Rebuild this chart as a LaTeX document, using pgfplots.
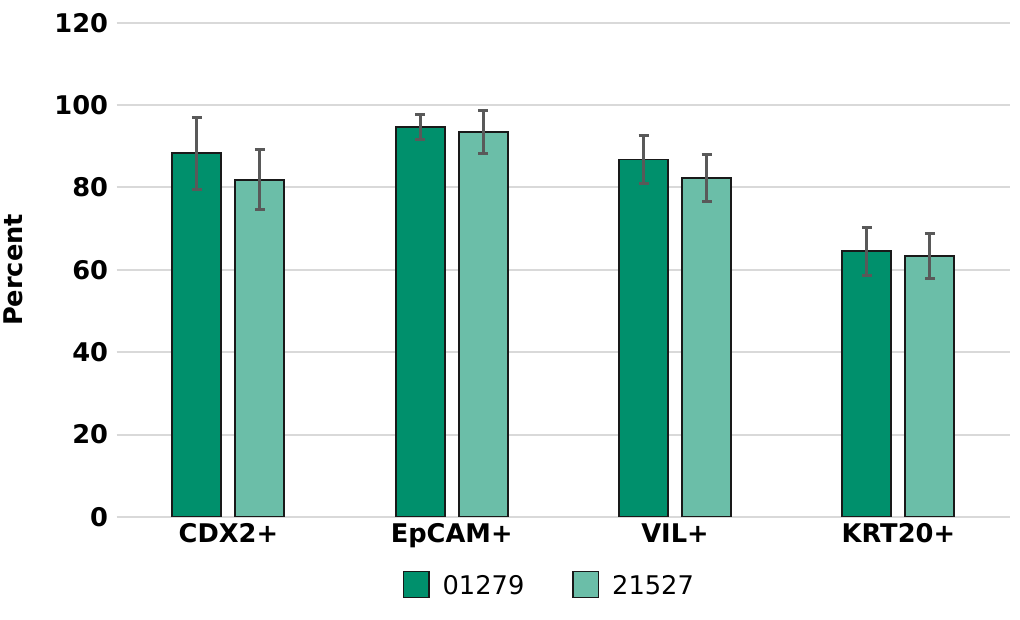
\documentclass[border=0pt]{standalone}
\usepackage{fontspec}
\setmainfont{DejaVu Sans}
\usepackage{pgfplots}
\pgfplotsset{compat=1.18}
\definecolor{cdark}{RGB}{0,144,108}
\definecolor{clight}{RGB}{107,190,168}
\definecolor{cgrid}{RGB}{217,217,217}
\definecolor{cerr}{RGB}{89,89,89}
\definecolor{cedge}{RGB}{25,25,25}
\begin{document}
\fontsize{25.7bp}{31bp}\selectfont
\begin{tikzpicture}
\path[use as bounding box] (0,0) rectangle (1020bp,620bp);
\begin{axis}[
  at={(116.7bp,103bp)}, anchor=south west,
  scale only axis, width=893.3bp, height=494.3bp,
  xmin=-0.5, xmax=3.5, ymin=0, ymax=120,
  ytick={0,20,...,120},
  xtick={0,1,2,3}, xticklabels={CDX2+,EpCAM+,VIL+,KRT20+},
  axis line style={draw=none},
  major tick length=0pt,
  ymajorgrids, grid style={cgrid, line width=2bp},
  /pgf/number format/assume math mode=true,
  yticklabel style={anchor=east, inner sep=0pt, xshift=-8.4bp, font=\bfseries},
  xticklabel style={anchor=north, inner sep=0pt, yshift=-6.3bp, font=\bfseries},
  ylabel={Percent},
  ylabel style={at={(axis description cs:-0.1049,0.5)}, anchor=south, rotate=0, inner sep=0pt, font=\bfseries},
  ybar=14bp, bar width=49bp,
  legend columns=2,
  legend style={at={(axis description cs:0.3203,-0.137)}, anchor=west, draw=none, fill=none,
    inner sep=0pt, outer sep=0pt, nodes={inner sep=0pt, outer sep=0pt},
    /tikz/every odd column/.append style={column sep=12.7bp},
    /tikz/every even column/.append style={column sep=48bp}},
  legend image code/.code={\draw[#1, line width=1.5bp, draw=cedge] (0bp,-11bp) rectangle (25.6bp,15bp);},
]
\addplot[fill=cdark, draw=cedge, line width=1.8bp,
  error bars/.cd, y dir=both, y explicit,
  error bar style={cerr, line width=3bp},
  error mark options={rotate=90, cerr, mark size=5bp, line width=3bp}]
  coordinates {(0,88.3) +- (0,8.7) (1,94.7) +- (0,3.0) (2,86.8) +- (0,5.9) (3,64.5) +- (0,5.9)};
\addplot[fill=clight, draw=cedge, line width=1.8bp,
  error bars/.cd, y dir=both, y explicit,
  error bar style={cerr, line width=3bp},
  error mark options={rotate=90, cerr, mark size=5bp, line width=3bp}]
  coordinates {(0,81.9) +- (0,7.3) (1,93.5) +- (0,5.2) (2,82.3) +- (0,5.7) (3,63.4) +- (0,5.5)};
\legend{01279,21527}
\end{axis}
\end{tikzpicture}
\end{document}
